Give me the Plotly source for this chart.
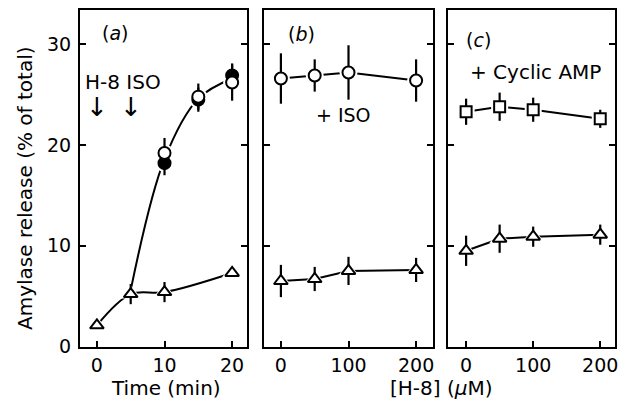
import plotly.graph_objects as go

# ---------------- data ----------------
# Panel (a): time course
time_ctrl = [0, 5, 10, 20]
ctrl_a = [2.1, 5.2, 5.4, 7.3]
ctrl_a_err = [0, 1.0, 1.0, 0]

time_iso = [10, 15, 20]
iso_open = [19.2, 24.8, 26.2]
iso_open_err = [1.5, 1.3, 1.8]
iso_fill = [18.2, 24.5, 26.9]
iso_fill_err = [1.2, 1.2, 1.2]

curve_t = [5, 10, 15, 20]
curve_y = [5.6, 18.6, 24.6, 26.6]

# Panel (b): H-8 dose, +ISO
h8_dose = [0, 50, 100, 200]
iso_b = [26.6, 26.9, 27.2, 26.4]
iso_b_err = [2.5, 1.6, 2.7, 2.1]
ctrl_b = [6.5, 6.7, 7.5, 7.6]
ctrl_b_err = [1.6, 1.2, 1.4, 1.2]

# Panel (c): H-8 dose, +cyclic AMP
camp_c = [23.3, 23.8, 23.5, 22.6]
camp_c_err = [1.3, 1.4, 1.2, 0.9]
ctrl_c = [9.5, 10.7, 10.9, 11.1]
ctrl_c_err = [1.5, 1.4, 1.0, 1.0]

yticks = [0, 10, 20, 30]
xticks_a = [0, 10, 20]
xticks_bc = [0, 100, 200]

# ---------------- figure ----------------
W, H = 628, 400
fig = go.Figure()
FONT = "DejaVu Sans, sans-serif"
LW = 2

series = [
    # (xaxis, yaxis, x, y, err, symbol, fill, size)
    ("x", "y", time_ctrl, ctrl_a, ctrl_a_err, "triangle-up", "white", 12),
    ("x", "y", time_iso, iso_fill, iso_fill_err, "circle", "black", 12),
    ("x", "y", time_iso, iso_open, iso_open_err, "circle", "white", 12),
    ("x2", "y2", h8_dose, iso_b, iso_b_err, "circle", "white", 12),
    ("x2", "y2", h8_dose, ctrl_b, ctrl_b_err, "triangle-up", "white", 12),
    ("x3", "y3", h8_dose, camp_c, camp_c_err, "square", "white", 11),
    ("x3", "y3", h8_dose, ctrl_c, ctrl_c_err, "triangle-up", "white", 12),
]

lines = [
    ("x", "y", time_ctrl, ctrl_a, "spline"),
    ("x", "y", curve_t, curve_y, "spline"),
    ("x2", "y2", h8_dose, iso_b, "linear"),
    ("x2", "y2", h8_dose, ctrl_b, "linear"),
    ("x3", "y3", h8_dose, camp_c, "linear"),
    ("x3", "y3", h8_dose, ctrl_c, "linear"),
]

# connecting lines
for xa, ya, x, y, shape in lines:
    fig.add_trace(go.Scatter(x=x, y=y, mode="lines", xaxis=xa, yaxis=ya,
                             line=dict(color="black", width=LW, shape=shape, smoothing=1.0),
                             showlegend=False, hoverinfo="skip"))

# white halos to break the lines near each marker
for xa, ya, x, y, err, sym, fill, size in series:
    fig.add_trace(go.Scatter(x=x, y=y, mode="markers", xaxis=xa, yaxis=ya,
                             marker=dict(symbol=sym, size=size + 6, color="white",
                                         line=dict(width=0)),
                             showlegend=False, hoverinfo="skip"))

# markers with error bars
for xa, ya, x, y, err, sym, fill, size in series:
    fig.add_trace(go.Scatter(x=x, y=y, mode="markers", xaxis=xa, yaxis=ya,
                             error_y=dict(type="data", array=err, visible=True,
                                          color="black", thickness=2.2, width=0),
                             marker=dict(symbol=sym, size=size, color=fill,
                                         line=dict(color="black", width=2)),
                             showlegend=False))

ydom = [1 - 347 / H, 1 - 10 / H]
yr = [-0.05, 33.4]
common_x = dict(showline=True, mirror=True, linecolor="black", linewidth=LW,
                ticks="inside", ticklen=6, tickwidth=2, tickcolor="black",
                showgrid=False, zeroline=False, automargin=False,
                tickfont=dict(family=FONT, size=19, color="black"))
common_y = dict(showline=True, mirror="ticks", linecolor="black", linewidth=LW,
                ticks="inside", ticklen=6, tickwidth=2, tickcolor="black",
                showgrid=False, zeroline=False, range=yr, tickvals=yticks,
                automargin=False, domain=ydom,
                tickfont=dict(family=FONT, size=19, color="black"))

fig.update_layout(
    width=W, height=H, margin=dict(l=0, r=0, t=0, b=0, pad=0),
    paper_bgcolor="white", plot_bgcolor="white",
    xaxis=dict(common_x, domain=[80 / W, 247 / W], range=[-2.5, 22.2], tickvals=xticks_a),
    xaxis2=dict(common_x, domain=[264 / W, 433 / W], range=[-25, 225], tickvals=xticks_bc),
    xaxis3=dict(common_x, domain=[448 / W, 615 / W], range=[-27, 222], tickvals=xticks_bc),
    yaxis=dict(common_y, anchor="x", ticklabelstandoff=3),
    yaxis2=dict(common_y, anchor="x2", showticklabels=False),
    yaxis3=dict(common_y, anchor="x3", showticklabels=False),
)

def ann(text, x, y, xref, yref, size=19, family=FONT, **kw):
    fig.add_annotation(text=text, x=x, y=y, xref=xref, yref=yref, showarrow=False,
                       xanchor="center", yanchor="middle",
                       font=dict(family=family, size=size, color="black"), **kw)

# panel labels
ann("(<i>a</i>)", 2.7, 31.1, "x", "y")
ann("(<i>b</i>)", 30, 31.0, "x2", "y2")
ann("(<i>c</i>)", 19, 30.4, "x3", "y3")

# text inside panels
ann("H-8 ISO", 3.9, 26.3, "x", "y", size=20)
ann("↓", 0, 23.8, "x", "y", size=26)
ann("↓", 5, 23.8, "x", "y", size=26)
ann("+ ISO", 92, 23.0, "x2", "y2", size=19)
ann("+ Cyclic AMP", 103, 27.2, "x3", "y3", size=20)

# axis titles
ann("Amylase release (% of total)", 25 / W, 1 - 188 / H, "paper", "paper", size=20, textangle=-90)
ann("Time (min)", 166 / W, 1 - 388 / H, "paper", "paper", size=20)
ann("[H-8] (<i>μ</i>M)", 441 / W, 1 - 388 / H, "paper", "paper", size=20)

fig.write_html("out.html")
